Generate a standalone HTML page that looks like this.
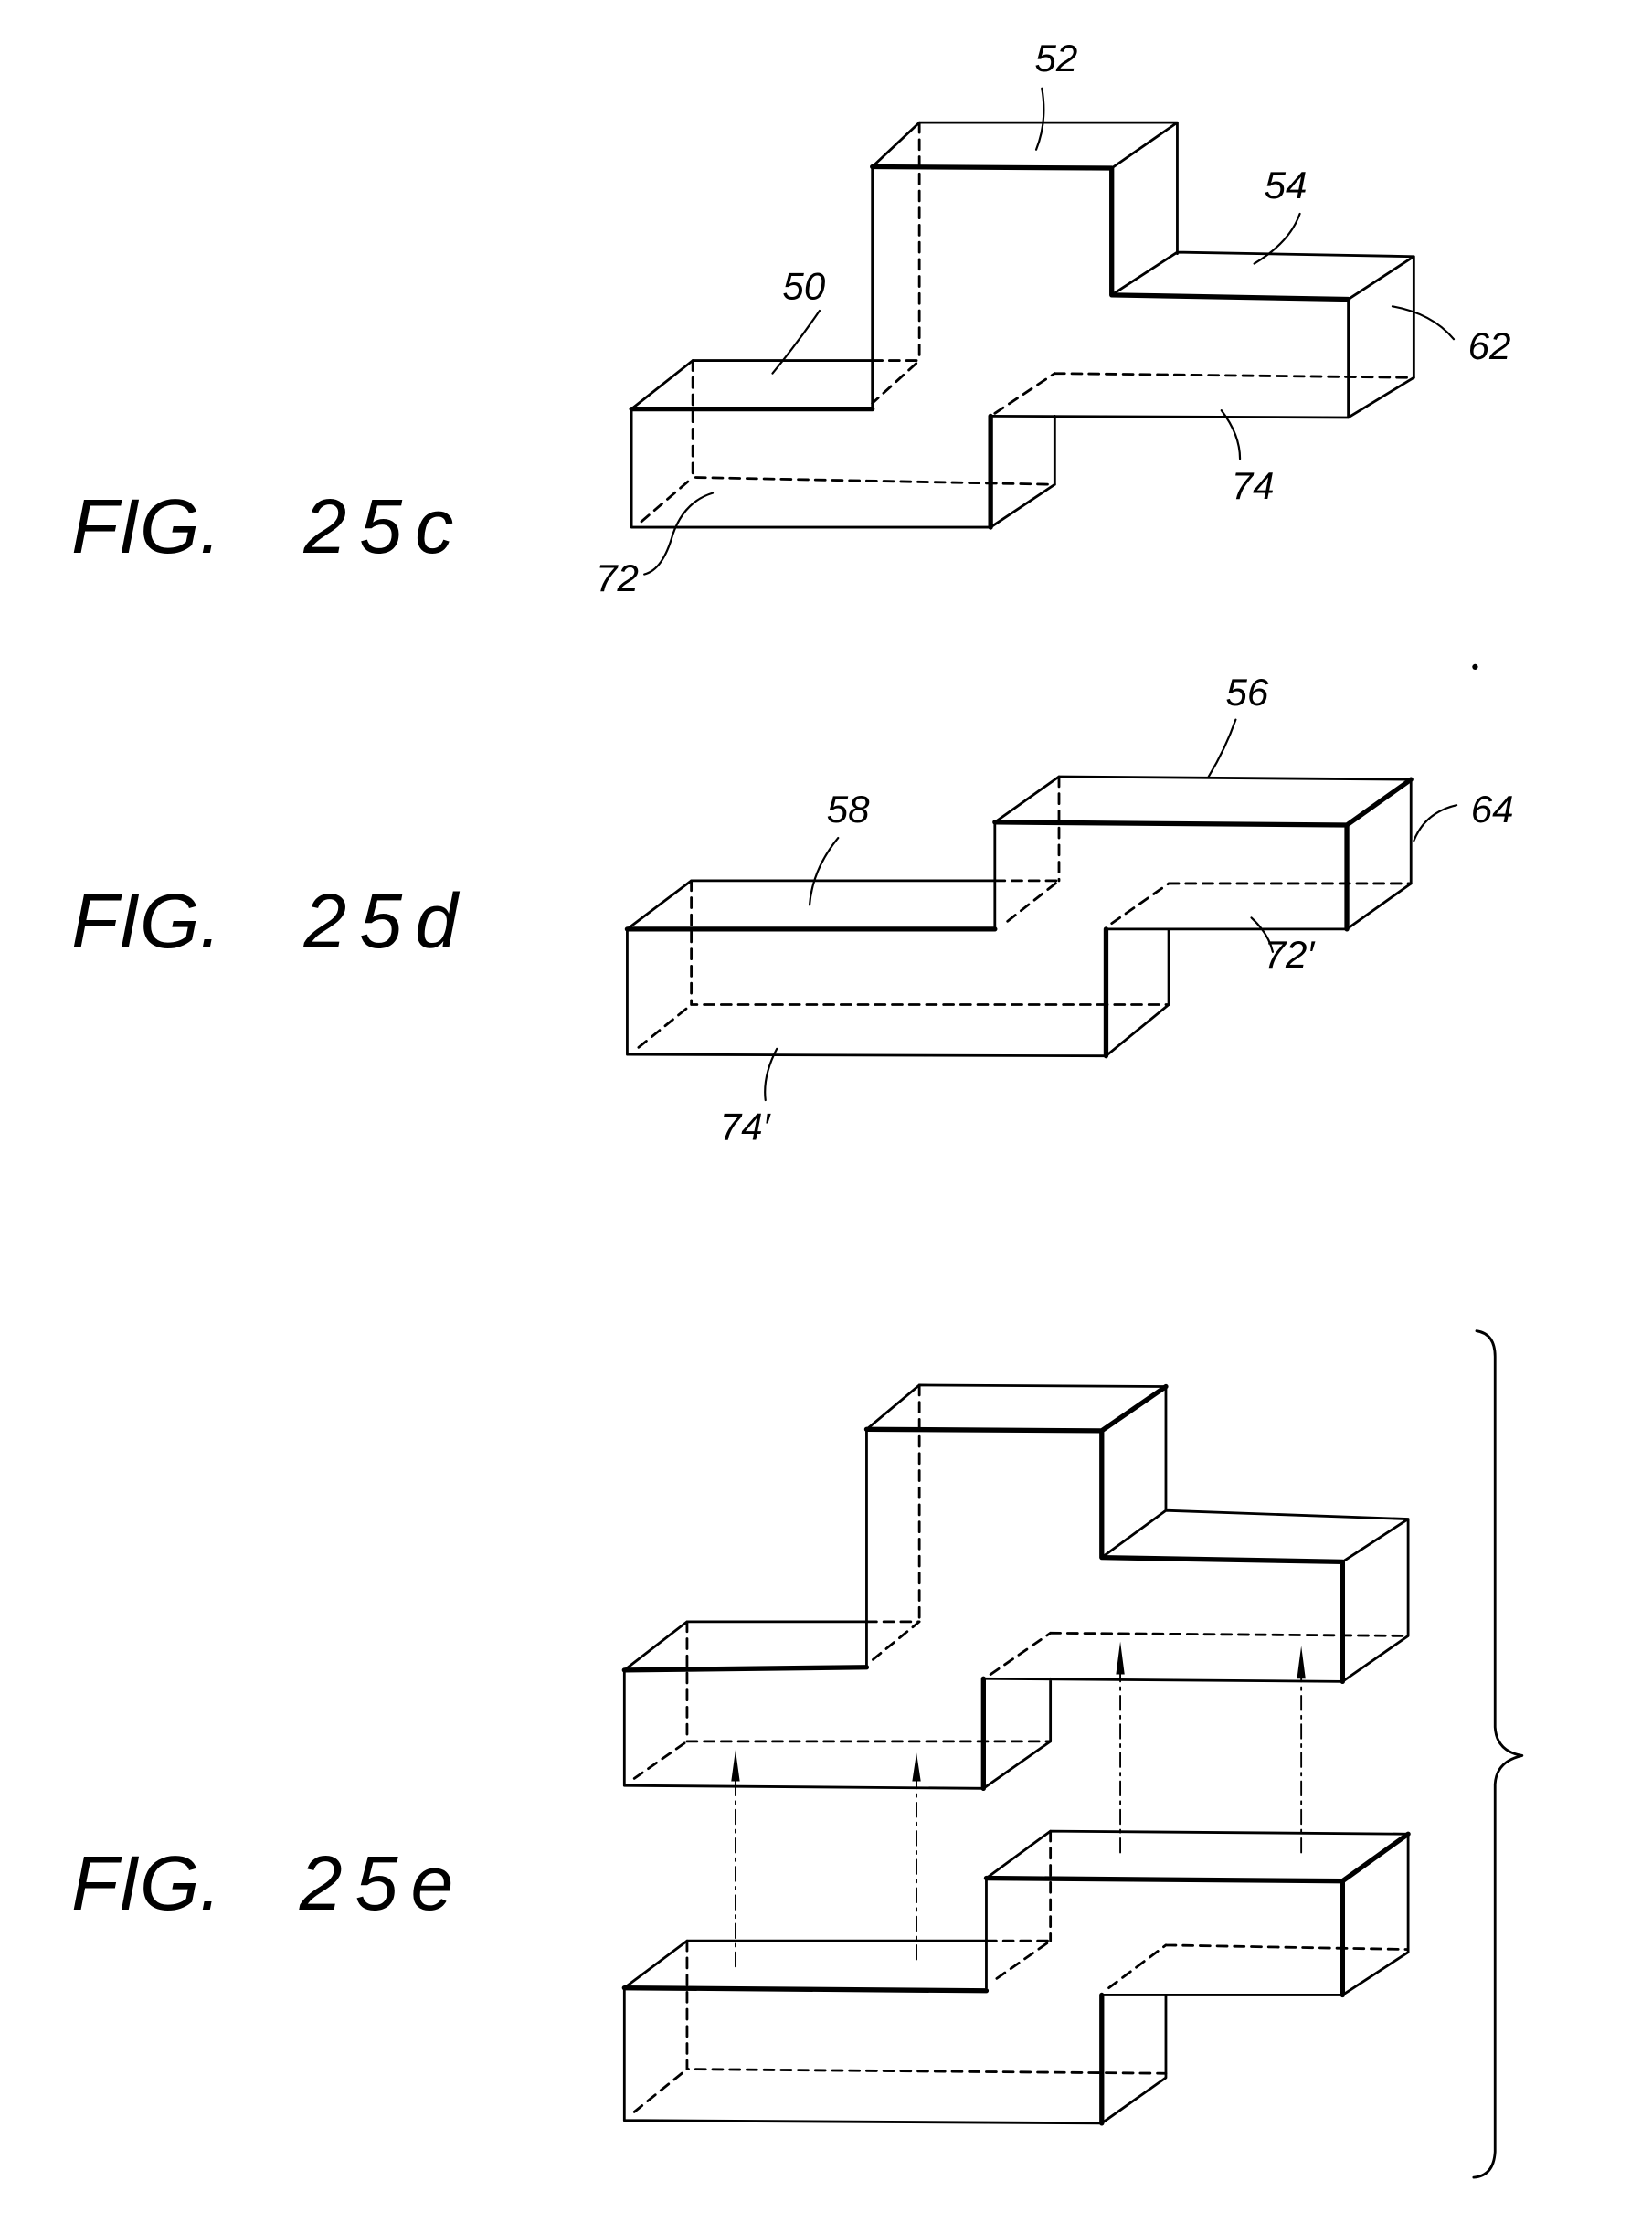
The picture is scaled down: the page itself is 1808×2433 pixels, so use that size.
<!DOCTYPE html>
<html><head><meta charset="utf-8"><style>
html,body{margin:0;padding:0;background:#fff;}
svg{display:block;}
text{font-family:"Liberation Sans",sans-serif;font-style:italic;fill:#000;}
.fig{font-size:54px;letter-spacing:0px;}
.num{font-size:54px;letter-spacing:9px;}
.lb{font-size:27px;}
</style></head><body>
<svg width="1808" height="2433" viewBox="0 0 1159 1560" xmlns="http://www.w3.org/2000/svg">
<g fill="none" stroke="#000" stroke-linecap="round" stroke-linejoin="round">
<!-- FIG 25c -->
<g stroke-width="1.8">
<path d="M612,117 L645,86 L826,86 L780,118 M826,86 L826,178 M780,207 L826,177 L992,180 L946,210 M992,180 L992,265 L946,293 M946,293 L695,292 M695,370 L740,340 L740,292 M443,287 L486,253 L612,253 M612,117 L612,287 M443,287 L443,370 L695,370 M946,210 L946,293"/>
<path d="M612,253 L645,253 L612,283 M740,262 L992,265 M698,290 L740,262 M486,253 L486,335 L740,340 M450,366 L486,335 M645,86 L645,253" stroke-dasharray="7,5"/>
</g>
<g stroke-width="3.4">
<path d="M612,117 L780,118 L780,207 L946,210 M443,287 L612,287 M695,292 L695,370"/>
</g>
<g stroke-width="1.4">
<path d="M731,62 Q735,85 727,105 M575,218 Q560,240 542,262 M912,150 Q905,170 880,185 M977,215 Q1005,220 1020,238 M857,288 Q870,305 870,322 M500,346 Q480,352 472,375 Q465,400 452,403"/>
</g>

<!-- FIG 25d -->
<g stroke-width="1.8">
<path d="M440,652 L485,618 L698,618 M698,577 L743,545 L990,547 M698,577 L698,652 M990,547 L990,620 L945,652 M776,652 L945,652 M440,652 L440,740 L776,741 M776,741 L820,705 L820,652"/>
<path d="M698,618 L743,618 L705,648 M743,545 L743,618 M820,620 L990,620 M780,648 L820,620 M485,618 L485,705 L820,705 M448,735 L485,705" stroke-dasharray="7,5"/>
</g>
<g stroke-width="3.4">
<path d="M440,652 L698,652 M698,577 L945,579 L990,547 M945,579 L945,652 M776,652 L776,741"/>
</g>
<g stroke-width="1.4">
<path d="M867,505 Q860,525 848,545 M588,588 Q570,610 568,635 M1022,565 Q1000,570 992,590 M878,644 Q890,655 893,668 M545,736 Q535,755 537,772"/>
</g>

<!-- FIG 25e top -->
<g stroke-width="1.8">
<path d="M608,1003 L645,972 L818,973 L773,1004 M818,973 L818,1060 M773,1093 L818,1060 L988,1066 L942,1096 M988,1066 L988,1148 L942,1180 M942,1180 L690,1178 M690,1255 L737,1222 L737,1178 M438,1172 L482,1138 L608,1138 M608,1003 L608,1170 M438,1172 L438,1253 L690,1255"/>
<path d="M608,1138 L645,1138 L612,1165 M737,1146 L988,1148 M695,1175 L737,1146 M482,1138 L482,1222 L737,1222 M445,1248 L482,1222 M645,972 L645,1138" stroke-dasharray="7,5"/>
</g>
<g stroke-width="3.4">
<path d="M608,1003 L773,1004 L818,973 M773,1004 L773,1093 L942,1096 L942,1180 M438,1172 L608,1170 M690,1178 L690,1255"/>
</g>
<!-- FIG 25e bottom -->
<g stroke-width="1.8">
<path d="M438,1395 L482,1362 L692,1362 M692,1318 L737,1285 L988,1287 M692,1318 L692,1395 M988,1287 L988,1370 L942,1400 M773,1400 L942,1400 M438,1395 L438,1488 L773,1490 M773,1490 L818,1458 L818,1400"/>
<path d="M692,1362 L737,1362 L697,1390 M737,1285 L737,1362 M818,1365 L988,1368 M778,1395 L818,1365 M482,1362 L482,1452 L818,1455 M445,1482 L482,1452" stroke-dasharray="7,5"/>
</g>
<g stroke-width="3.4">
<path d="M438,1395 L692,1397 M692,1318 L942,1320 L988,1287 M942,1320 L942,1400 M773,1400 L773,1490"/>
</g>
<!-- arrows -->
<g stroke-width="1.2" stroke-dasharray="10,4,2,4">
<path d="M516,1380 L516,1245 M643,1375 L643,1245 M786,1300 L786,1170 M913,1300 L913,1172"/>
</g>
<!-- brace -->
<path stroke-width="1.8" d="M1036,934 Q1049,936 1049,952 L1049,1212 Q1050,1229 1068,1232 Q1050,1236 1049,1252 L1049,1510 Q1048,1527 1034,1528"/>
</g>
<g fill="#000">
<path d="M513,1250 L516,1228 L519,1250 Z M640,1250 L643,1230 L646,1250 Z M783,1175 L786,1152 L789,1175 Z M910,1178 L913,1155 L916,1178 Z"/>
<circle cx="1035" cy="468" r="2"/>
</g>
<text class="fig" x="50" y="388">FIG.</text><text class="num" x="213" y="388">25c</text>
<text class="fig" x="50" y="665">FIG.</text><text class="num" x="213" y="665">25d</text>
<text class="fig" x="50" y="1340">FIG.</text><text class="num" x="210" y="1340">25e</text>
<text class="lb" x="726" y="50">52</text>
<text class="lb" x="549" y="210">50</text>
<text class="lb" x="887" y="139">54</text>
<text class="lb" x="1030" y="252">62</text>
<text class="lb" x="864" y="350">74</text>
<text class="lb" x="418" y="415">72</text>
<text class="lb" x="860" y="495">56</text>
<text class="lb" x="580" y="577">58</text>
<text class="lb" x="1032" y="577">64</text>
<text class="lb" x="887" y="679">72′</text>
<text class="lb" x="505" y="800">74′</text>
</svg>
</body></html>
